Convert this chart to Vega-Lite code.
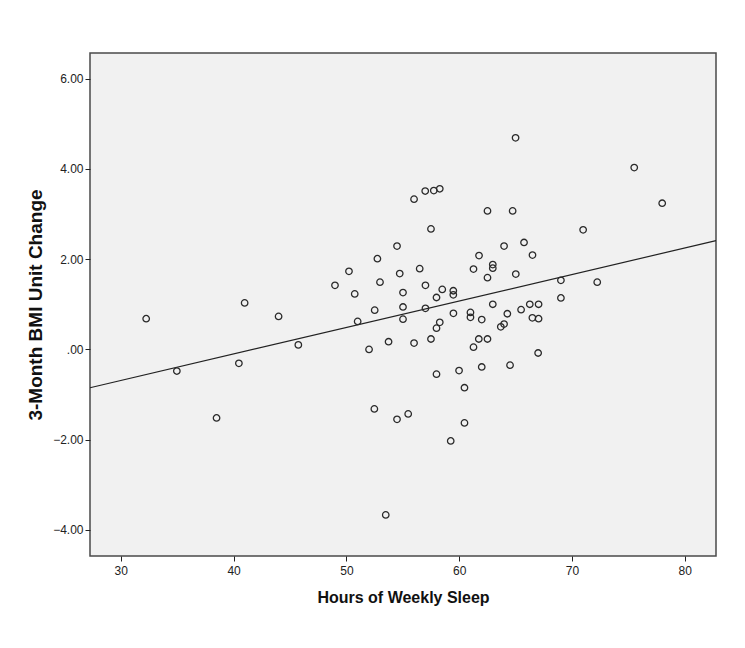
{
  "$schema": "https://vega.github.io/schema/vega-lite/v6.json",
  "autosize": "none",
  "width": 626,
  "height": 503,
  "padding": {"left": 90, "top": 53, "right": 29, "bottom": 92},
  "background": "#ffffff",
  "config": {
    "view": {"fill": "#f1f1f1", "stroke": "#4a4a4a", "strokeWidth": 1.5},
    "axis": {
      "grid": false, "domain": false, "ticks": true, "tickColor": "#222222", "tickSize": 5, "tickWidth": 1,
      "labelFont": "Liberation Sans", "labelFontSize": 12, "labelColor": "#222222",
      "titleFont": "Liberation Sans", "titleFontWeight": "bold", "titleColor": "#111111"
    }
  },
  "datasets": {
    "points": [
      {"sleep": 32.25, "bmi": 0.68}, {"sleep": 34.97, "bmi": -0.48}, {"sleep": 38.49, "bmi": -1.52},
      {"sleep": 40.47, "bmi": -0.31}, {"sleep": 40.98, "bmi": 1.03}, {"sleep": 43.99, "bmi": 0.73},
      {"sleep": 45.74, "bmi": 0.10}, {"sleep": 48.99, "bmi": 1.42}, {"sleep": 50.23, "bmi": 1.73},
      {"sleep": 50.74, "bmi": 1.23}, {"sleep": 51.00, "bmi": 0.62}, {"sleep": 52.01, "bmi": 0.00},
      {"sleep": 52.48, "bmi": -1.32}, {"sleep": 52.51, "bmi": 0.87}, {"sleep": 52.75, "bmi": 2.01},
      {"sleep": 52.98, "bmi": 1.49}, {"sleep": 53.49, "bmi": -3.67}, {"sleep": 53.74, "bmi": 0.17},
      {"sleep": 54.49, "bmi": 2.29}, {"sleep": 54.49, "bmi": -1.55}, {"sleep": 54.73, "bmi": 1.68},
      {"sleep": 55.02, "bmi": 1.26}, {"sleep": 55.02, "bmi": 0.94}, {"sleep": 55.02, "bmi": 0.67},
      {"sleep": 55.48, "bmi": -1.43}, {"sleep": 56.00, "bmi": 3.33}, {"sleep": 56.00, "bmi": 0.14},
      {"sleep": 56.50, "bmi": 1.79}, {"sleep": 56.99, "bmi": 3.51}, {"sleep": 57.01, "bmi": 1.42},
      {"sleep": 57.01, "bmi": 0.91}, {"sleep": 57.50, "bmi": 2.67}, {"sleep": 57.50, "bmi": 0.23},
      {"sleep": 57.75, "bmi": 3.52}, {"sleep": 57.99, "bmi": 1.15}, {"sleep": 57.99, "bmi": 0.47},
      {"sleep": 57.99, "bmi": -0.55}, {"sleep": 58.28, "bmi": 3.56}, {"sleep": 58.28, "bmi": 0.60},
      {"sleep": 58.50, "bmi": 1.33}, {"sleep": 59.25, "bmi": -2.03}, {"sleep": 59.48, "bmi": 1.30},
      {"sleep": 59.48, "bmi": 1.21}, {"sleep": 59.49, "bmi": 0.80}, {"sleep": 59.99, "bmi": -0.47},
      {"sleep": 60.47, "bmi": -0.85}, {"sleep": 60.47, "bmi": -1.63}, {"sleep": 61.00, "bmi": 0.82},
      {"sleep": 61.00, "bmi": 0.71}, {"sleep": 61.27, "bmi": 1.78}, {"sleep": 61.27, "bmi": 0.05},
      {"sleep": 61.76, "bmi": 2.08}, {"sleep": 61.74, "bmi": 0.23}, {"sleep": 62.00, "bmi": 0.66},
      {"sleep": 62.00, "bmi": -0.39}, {"sleep": 62.51, "bmi": 3.07}, {"sleep": 62.51, "bmi": 1.59},
      {"sleep": 62.51, "bmi": 0.23}, {"sleep": 62.98, "bmi": 1.88}, {"sleep": 62.98, "bmi": 1.80},
      {"sleep": 62.98, "bmi": 1.00}, {"sleep": 63.69, "bmi": 0.50}, {"sleep": 63.98, "bmi": 0.56},
      {"sleep": 63.98, "bmi": 2.29}, {"sleep": 64.27, "bmi": 0.79}, {"sleep": 64.51, "bmi": -0.35},
      {"sleep": 64.74, "bmi": 3.07}, {"sleep": 65.00, "bmi": 4.69}, {"sleep": 65.02, "bmi": 1.67},
      {"sleep": 65.49, "bmi": 0.88}, {"sleep": 65.75, "bmi": 2.37}, {"sleep": 66.26, "bmi": 1.00},
      {"sleep": 66.50, "bmi": 2.09}, {"sleep": 66.49, "bmi": 0.70}, {"sleep": 67.04, "bmi": 1.00},
      {"sleep": 67.04, "bmi": 0.68}, {"sleep": 67.00, "bmi": -0.08}, {"sleep": 69.02, "bmi": 1.53},
      {"sleep": 69.02, "bmi": 1.14}, {"sleep": 70.99, "bmi": 2.65}, {"sleep": 72.24, "bmi": 1.49},
      {"sleep": 75.52, "bmi": 4.03}, {"sleep": 78.00, "bmi": 3.24}
    ],
    "fit": [
      {"sleep": 27.27, "bmi": -0.85},
      {"sleep": 82.77, "bmi": 2.41}
    ]
  },
  "layer": [
    {
      "data": {"name": "fit"},
      "mark": {"type": "line", "color": "#222222", "strokeWidth": 1.2},
      "encoding": {
        "x": {"field": "sleep", "type": "quantitative"},
        "y": {"field": "bmi", "type": "quantitative"}
      }
    },
    {
      "data": {"name": "points"},
      "mark": {"type": "point", "shape": "circle", "filled": false, "stroke": "#2a2a2a", "strokeWidth": 1.3, "size": 42, "opacity": 1},
      "encoding": {
        "x": {
          "field": "sleep", "type": "quantitative",
          "scale": {"domain": [27.27, 82.77], "nice": false, "zero": false},
          "axis": {"title": "Hours of Weekly Sleep", "titleFontSize": 16, "values": [30, 40, 50, 60, 70, 80], "labelPadding": 4, "titlePadding": 13}
        },
        "y": {
          "field": "bmi", "type": "quantitative",
          "scale": {"domain": [-4.58, 6.57], "nice": false, "zero": false},
          "axis": {
            "title": "3-Month BMI Unit Change", "titleFontSize": 19, "values": [-4, -2, 0, 2, 4, 6],
            "labelExpr": "datum.value == 0 ? '.00' : format(datum.value, '.2f')",
            "labelPadding": 2, "titlePadding": 7
          }
        }
      }
    }
  ]
}
